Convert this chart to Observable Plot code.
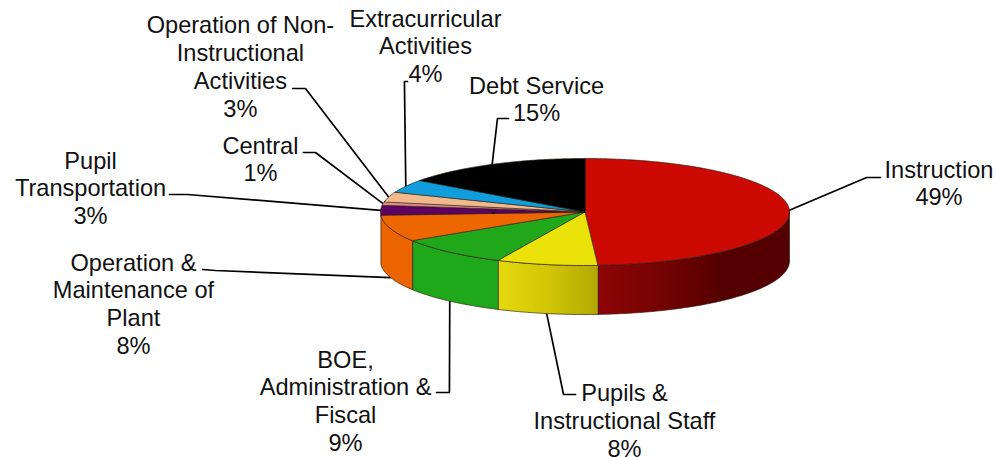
<!DOCTYPE html>
<html>
<head>
<meta charset="utf-8">
<style>
  html, body { margin: 0; padding: 0; background: #fff; }
  svg { display: block; }
</style>
<script src="https://cdn.jsdelivr.net/npm/d3@7"></script>
<script src="https://cdn.jsdelivr.net/npm/@observablehq/plot@0.6"></script>
</head>
<body>
<script>
// Budget categories, clockwise from twelve o'clock.
const categories = [
  "Instruction",
  "Pupils &\nInstructional Staff",
  "BOE,\nAdministration &\nFiscal",
  "Operation &\nMaintenance of\nPlant",
  "Pupil\nTransportation",
  "Central",
  "Operation of Non-\nInstructional\nActivities",
  "Extracurricular\nActivities",
  "Debt Service"
];
const shares = [49, 8, 9, 8, 3, 1, 3, 4, 15];

// Slice colours: lid, then wall.
const lidColors = ["#cc0903", "#ebe20a", "#21a81a", "#ee6600", "#5e0060", "#e08c8c", "#f2b98c", "#0f9edb", "#000000"];
const wallColors = ["url(#wall-red)", "url(#wall-yellow)", "#1fa81a", "#ec6400", null, null, null, null, null];

// Label placement in pie units (one unit = one radius on each axis).
const labelX = [1.731, 0.193, -1.171, -2.208, -2.418, -1.587, -1.685, -0.78, -0.237];
const labelY = [0.551, -3.888, -3.523, -1.71, 0.458, 1.0, 2.729, 3.112, 2.121];
const elbowX = [1.377, -0.105, -0.663, -1.807, -1.944, -1.318, -1.367, -0.883, -0.428];
const elbowY = [0.645, -3.411, -3.374, -1.093, 0.327, 1.112, 2.308, 2.439, 1.748];
const tailX = [1.445, -0.046, -0.726, -1.87, -2.032, -1.377, -1.43, -0.868, -0.374];
const tailY = [0.645, -3.411, -3.374, -1.075, 0.327, 1.112, 2.308, 2.439, 1.748];

// Stray speck on the purple slice.
const speck = [{x: -0.447, y: -0.009}];

const rimDepth = 0.916; // height of the wall in pie units
const turn = (share) => (share / 100) * 360;
const rad = (deg) => (deg * Math.PI) / 180;
const rimX = (t) => Math.sin(rad(t));
const rimY = (t) => Math.cos(rad(t));

function arc(from, to, drop = 0) {
  const n = Math.max(2, Math.ceil(Math.abs(to - from)));
  return d3.range(n + 1).map((i) => {
    const t = from + ((to - from) * i) / n;
    return {x: rimX(t), y: rimY(t) - drop};
  });
}

// Start and end angle of each slice from the cumulative shares.
let running = 0;
const slices = shares.map((share, i) => {
  const start = turn(running);
  running += share;
  const end = turn(running);
  return {i, share, start, end, mid: (start + end) / 2};
});

// Only the front half of the cylinder shows a wall.
const wallPolygon = ({start, end}) => {
  const a = Math.max(start, 90), b = Math.min(end, 270);
  return [...arc(a, b), ...arc(b, a, rimDepth)];
};
const lidPolygon = ({start, end}) => [{x: 0, y: 0}, ...arc(start, end)];

const frontSlices = slices.filter((s) => wallColors[s.i]);

const leaders = slices.flatMap((s) => {
  const onWall = rimY(s.mid) < -0.1;
  return [
    {i: s.i, x: rimX(s.mid), y: rimY(s.mid) - (onWall ? rimDepth : 0)},
    {i: s.i, x: elbowX[s.i], y: elbowY[s.i]},
    {i: s.i, x: tailX[s.i], y: tailY[s.i]}
  ];
});

const labels = slices.map((s) => ({
  x: labelX[s.i],
  y: labelY[s.i],
  text: `${categories[s.i]}\n${s.share}%`
}));

// Horizontal shading used on the curved walls.
function wallGradients() {
  const defs = d3.create("svg:defs");
  const add = (id, stops) => {
    const g = defs.append("linearGradient").attr("id", id);
    for (const [offset, color] of stops) {
      g.append("stop").attr("offset", offset).attr("stop-color", color);
    }
  };
  add("wall-red", [[0, "#8e0505"], [0.35, "#730202"], [0.65, "#540000"], [1, "#550000"]]);
  add("wall-yellow", [[0, "#e4da0c"], [0.5, "#d2c606"], [1, "#b3a804"]]);
  return defs.node();
}

const edge = {stroke: "#2a1c10", strokeOpacity: 0.65, strokeWidth: 1, curve: "linear-closed"};

const chart = Plot.plot({
  width: 997,
  height: 457,
  margin: 0,
  x: {domain: [-1, 1], range: [380, 789], axis: null},
  y: {domain: [1, -1], range: [158, 265], axis: null},
  style: {background: "#fff"},
  marks: [
    wallGradients,
    Plot.line(leaders, {x: "x", y: "y", z: "i", stroke: "#000", strokeWidth: 1.7, strokeLinejoin: "miter"}),
    ...frontSlices.map((s) =>
      Plot.line(wallPolygon(s), {x: "x", y: "y", fill: wallColors[s.i], ...edge})
    ),
    ...slices.map((s) =>
      Plot.line(lidPolygon(s), {x: "x", y: "y", fill: lidColors[s.i], ...edge})
    ),
    Plot.dot(speck, {x: "x", y: "y", r: 1.3, fill: "#000"}),
    Plot.text(labels, {
      x: "x",
      y: "y",
      text: "text",
      fontFamily: "Liberation Sans, Arial, sans-serif",
      fontSize: 23.6,
      lineHeight: 1.18,
      fill: "#111",
      textAnchor: "middle",
      lineAnchor: "middle"
    })
  ]
});
document.body.appendChild(chart);
</script>
</body>
</html>
